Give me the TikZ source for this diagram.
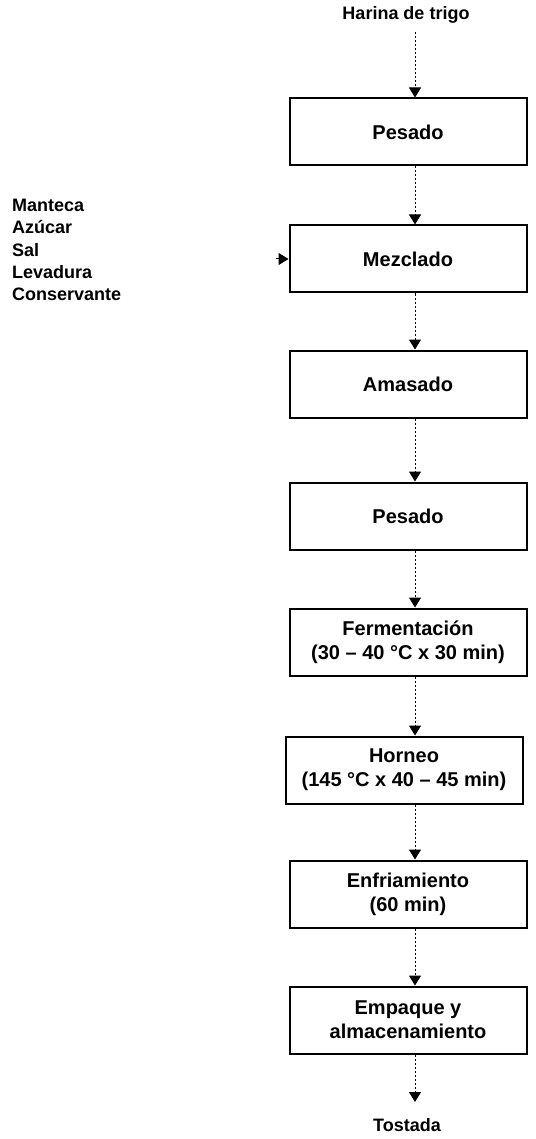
\documentclass[tikz,border=0pt]{standalone}
\usepackage{fontspec}
\setmainfont{Liberation Sans}
\usetikzlibrary{arrows.meta}
\begin{document}
\begin{tikzpicture}[x=1pt,y=-1pt,
  procbox/.style={draw=black, line width=2pt, minimum width=237pt, minimum height=67pt,
    align=center, inner sep=2pt, font=\fontsize{20}{24}\selectfont\bfseries},
  lbl/.style={font=\fontsize{18}{22.3}\selectfont\bfseries, inner sep=0pt},
  flow/.style={draw=black, line width=1pt, dash pattern=on 2pt off 2pt,
    -{Triangle[width=12pt,length=10pt]}}]
\useasboundingbox (0,0) rectangle (535,1139);
\node[lbl] (src) at (406,15) {Harina de trigo};
\node[procbox] (b1) at (408,132) {Pesado};
\node[procbox] (b2) at (408,259) {Mezclado};
\node[procbox] (b3) at (408,384) {Amasado};
\node[procbox] (b4) at (408,516) {Pesado};
\node[procbox] (b5) at (408,642) {Fermentación\\(30 – 40 °C x 30 min)};
\node[procbox] (b6) at (404,770) {Horneo\\(145 °C x 40 – 45 min)};
\node[procbox] (b7) at (408,894) {Enfriamiento\\(60 min)};
\node[procbox] (b8) at (408,1020) {Empaque y\\almacenamiento};
\node[lbl] (dst) at (407,1125) {Tostada};
\node[lbl, anchor=west, align=left] (ing) at (12,250) {Manteca\\Azúcar\\Sal\\Levadura\\Conservante};
\coordinate (ax) at (415,0);
\coordinate (src0) at (415,32);
\coordinate (dst0) at (415,1102);
\coordinate (ingin) at (276,259);
\draw[flow] (src0) -- (b1.north -| ax);
\draw[flow] (b1.south -| ax) -- (b2.north -| ax);
\draw[flow] (b2.south -| ax) -- (b3.north -| ax);
\draw[flow] (b3.south -| ax) -- (b4.north -| ax);
\draw[flow] (b4.south -| ax) -- (b5.north -| ax);
\draw[flow] (b5.south -| ax) -- (b6.north -| ax);
\draw[flow] (b6.south -| ax) -- (b7.north -| ax);
\draw[flow] (b7.south -| ax) -- (b8.north -| ax);
\draw[flow] (b8.south -| ax) -- (dst0);
\draw[flow, solid] (ingin) -- (b2.west);
\end{tikzpicture}
\end{document}
